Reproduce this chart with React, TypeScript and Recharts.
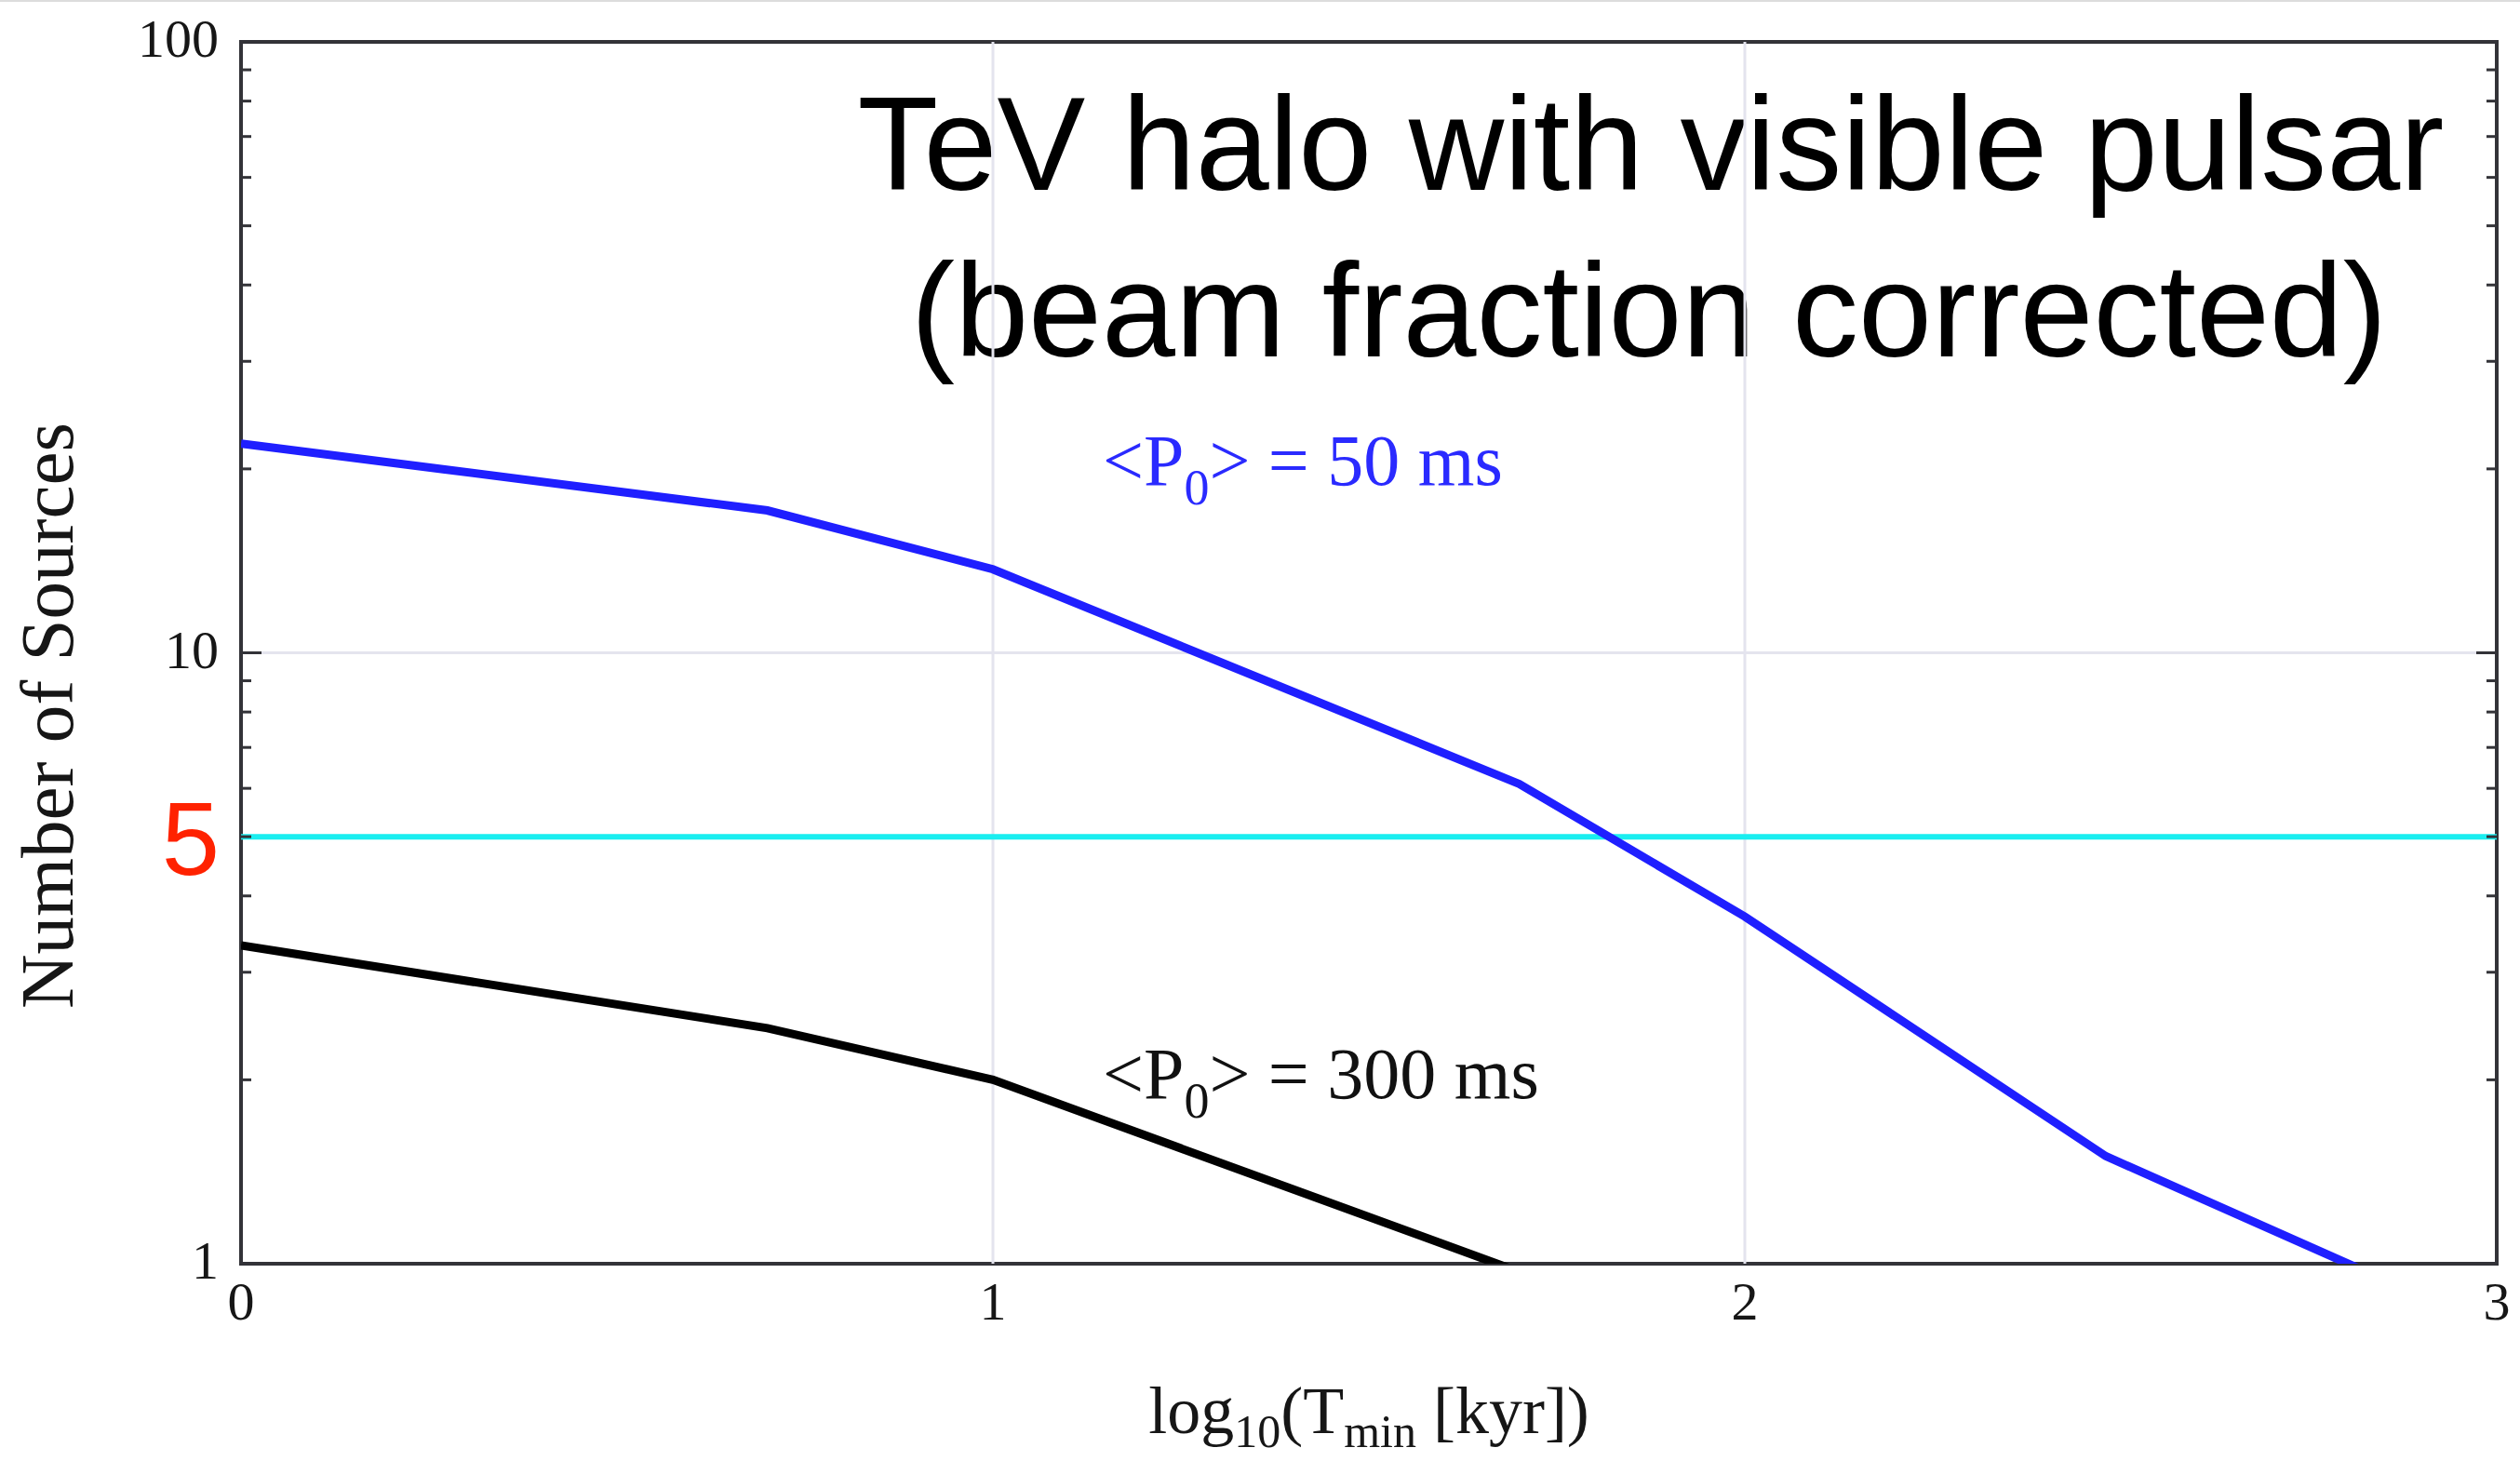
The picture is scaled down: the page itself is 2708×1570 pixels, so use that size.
import React from 'react';
import { LineChart, Line, XAxis, YAxis, ReferenceLine, ReferenceArea } from 'recharts';

// ---- data ----
const tminLog50: number[] = [0, 0.7, 1, 1.7, 2, 2.48, 3];
const sources50: number[] = [22, 17.1, 13.7, 6.1, 3.7, 1.5, 0.78];
const tminLog300: number[] = [0, 0.7, 1, 1.7];
const sources300: number[] = [3.32, 2.43, 2.0, 0.97];
const xTicks: number[] = [0, 1, 2, 3];
const yMajorTicks: number[] = [1, 10, 100];
const yMinorTicks: number[] = [2, 3, 4, 5, 6, 7, 8, 9, 20, 30, 40, 50, 60, 70, 80, 90];
const xGridValues: number[] = [1, 2];
const yGridValues: number[] = [10];
const thresholdValue = 5;
const titleLines: string[] = ['TeV halo with visible pulsar', '(beam fraction corrected)'];
const label50 = { pre: '<P', sub: '0', post: '> = 50 ms' };
const label300 = { pre: '<P', sub: '0', post: '> = 300 ms' };

const data50 = tminLog50.map((x, i) => ({ x, y: sources50[i] }));
const data300 = tminLog300.map((x, i) => ({ x, y: sources300[i] }));
const yAllTicks = [...yMajorTicks, ...yMinorTicks].sort((a, b) => a - b);

const SERIF = '"Liberation Serif", "Times New Roman", serif';
const SANS = '"Liberation Sans", Arial, sans-serif';
const AXIS_COLOR = '#333338';
const TEXT_COLOR = '#161616';

const LeftTick = (props: any) => {
  const { x, y, payload } = props;
  const v = payload.value;
  const major = yMajorTicks.includes(v);
  return (
    <g>
      <line x1={x} x2={x + (major ? 22 : 11)} y1={y} y2={y} stroke={AXIS_COLOR} strokeWidth={3} />
      {major && (
        <text x={x - 24} y={y + 16} textAnchor="end" fontFamily={SERIF} fontSize={58} fill={TEXT_COLOR}>
          {v}
        </text>
      )}
    </g>
  );
};

const RightTick = (props: any) => {
  const { x, y, payload } = props;
  const v = payload.value;
  const major = yMajorTicks.includes(v);
  return <line x1={x - (major ? 22 : 11)} x2={x} y1={y} y2={y} stroke={AXIS_COLOR} strokeWidth={3} />;
};

const BottomTick = (props: any) => {
  const { x, y, payload } = props;
  return (
    <text x={x} y={y + 60} textAnchor="middle" fontFamily={SERIF} fontSize={58} fill={TEXT_COLOR}>
      {payload.value}
    </text>
  );
};

const XTitle = () => (
  <text x={1471} y={1540} textAnchor="middle" fontFamily={SERIF} fontSize={72} fill={TEXT_COLOR}>
    log
    <tspan dy={15} fontSize={50}>10</tspan>
    <tspan dy={-15}>(T</tspan>
    <tspan dy={15} fontSize={50}>min</tspan>
    <tspan dy={-15}> [kyr])</tspan>
  </text>
);

const YTitle = () => (
  <text
    transform="translate(78,769) rotate(-90)"
    x={0}
    y={0}
    textAnchor="middle"
    fontFamily={SERIF}
    fontSize={81}
    fill={TEXT_COLOR}
  >
    Number of Sources
  </text>
);

const ThresholdLabel = () => (
  <text x={205} y={940} textAnchor="middle" fontFamily={SANS} fontSize={112} fill="#ff2200">
    {thresholdValue}
  </text>
);

const PLabel = ({ lab, x, y, color }: any) => (
  <text x={x} y={y} fontFamily={SERIF} fontSize={78} fill={color}>
    {lab.pre}
    <tspan dy={21} fontSize={54}>{lab.sub}</tspan>
    <tspan dy={-21}>{lab.post}</tspan>
  </text>
);

const Annotations = () => (
  <g>
    <text x={1774} y={204} textAnchor="middle" fontFamily={SANS} fontSize={142} fill="#000">
      {titleLines[0]}
    </text>
    <text x={1772} y={383} textAnchor="middle" fontFamily={SANS} fontSize={142} fill="#000">
      {titleLines[1]}
    </text>
    <PLabel lab={label50} x={1185} y={521} color="#2a2aff" />
    <PLabel lab={label300} x={1185} y={1180} color="#111" />
  </g>
);

export default function App() {
  return (
    <div style={{ position: 'absolute', left: 0, top: 0, width: 2708, height: 1570, background: '#fff' }}>
      <div style={{ position: 'absolute', left: 0, top: 0, width: 2708, height: 2, background: '#dcdcdc' }} />
      <LineChart width={2708} height={1570} margin={{ top: 45, right: 0, bottom: 0, left: 0 }}>
        <XAxis
          dataKey="x"
          type="number"
          domain={[0, 3]}
          ticks={xTicks}
          interval={0}
          height={212}
          axisLine={false}
          tickLine={false}
          tickSize={0}
          tickMargin={0}
          tick={<BottomTick />}
          allowDataOverflow
          label={<XTitle />}
        />
        <YAxis
          yAxisId="l"
          orientation="left"
          scale="log"
          domain={[1, 100]}
          ticks={yAllTicks}
          interval={0}
          width={259}
          axisLine={false}
          tickLine={false}
          tickSize={0}
          tickMargin={0}
          tick={<LeftTick />}
          allowDataOverflow
          label={<YTitle />}
        />
        <YAxis
          yAxisId="r"
          orientation="right"
          scale="log"
          domain={[1, 100]}
          ticks={yAllTicks}
          interval={0}
          width={25}
          axisLine={false}
          tickLine={false}
          tickSize={0}
          tickMargin={0}
          tick={<RightTick />}
          allowDataOverflow
        />
        {xGridValues.map((v) => (
          <ReferenceLine key={'gx' + v} yAxisId="l" x={v} stroke="#e4e4ee" strokeWidth={3} />
        ))}
        {yGridValues.map((v) => (
          <ReferenceLine key={'gy' + v} yAxisId="l" y={v} stroke="#e4e4ee" strokeWidth={3} />
        ))}
        <ReferenceLine yAxisId="l" y={thresholdValue} stroke="#1aeef0" strokeWidth={6} label={<ThresholdLabel />} />
        <Line
          yAxisId="l"
          data={data300}
          dataKey="y"
          type="linear"
          stroke="#000"
          strokeWidth={9}
          dot={false}
          activeDot={false}
          isAnimationActive={false}
        />
        <Line
          yAxisId="l"
          data={data50}
          dataKey="y"
          type="linear"
          stroke="#1f1fff"
          strokeWidth={9}
          dot={false}
          activeDot={false}
          isAnimationActive={false}
        />
        <ReferenceArea
          yAxisId="l"
          x1={0}
          x2={3}
          y1={1}
          y2={100}
          fill="none"
          fillOpacity={0}
          stroke={AXIS_COLOR}
          strokeWidth={4}
          label={<Annotations />}
        />
      </LineChart>
    </div>
  );
}
